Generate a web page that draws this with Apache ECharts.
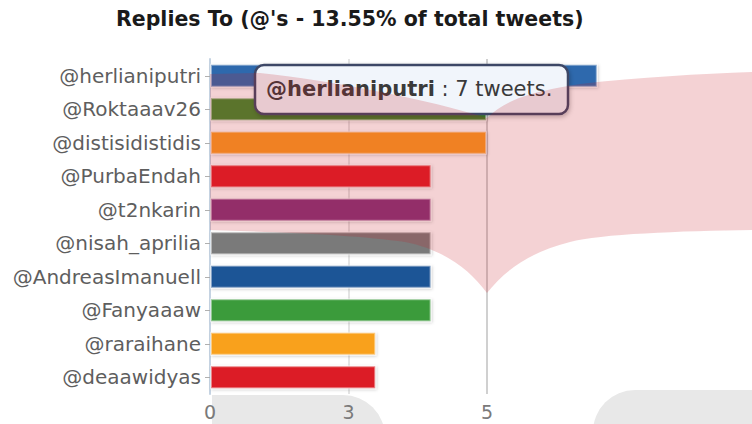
<!DOCTYPE html>
<html>
<head>
<meta charset="utf-8">
<title>Replies To</title>
<script src="https://cdn.jsdelivr.net/npm/echarts@6/dist/echarts.min.js"></script>
<style>
  html, body { margin: 0; padding: 0; background: #ffffff; }
  #chart { width: 752px; height: 424px; }
</style>
</head>
<body>
<div id="chart"></div>
<script>
// Accounts replied to, and how many tweets went to each
var accounts = ['@herlianiputri', '@Roktaaav26', '@distisidistidis', '@PurbaEndah', '@t2nkarin',
                '@nisah_aprilia', '@AndreasImanuell', '@Fanyaaaw', '@raraihane', '@deaawidyas'];
var tweetCounts = [7, 5, 5, 4, 4, 4, 4, 4, 3, 3];
var titleText = "Replies To (@'s - 13.55% of total tweets)";

// One colour per bar
var barColors = ['#2f69ad', '#3f8a2e', '#fa9a20', '#e21e26', '#86307a',
                 '#7a7a7a', '#1f5596', '#3a9b3a', '#f9a11b', '#dc1f26'];

// Curved red wing drawn across the plot as a decoration
var WingShape = echarts.graphic.extendShape({
  shape: {},
  buildPath: function (ctx) {
    ctx.moveTo(210, 74);
    ctx.lineTo(260, 73);
    ctx.bezierCurveTo(330, 80, 430, 100, 487, 118);
    ctx.bezierCurveTo(505, 100, 530, 92, 580, 84);
    ctx.bezierCurveTo(640, 77, 700, 74, 752, 72);
    ctx.lineTo(752, 230);
    ctx.bezierCurveTo(680, 231, 600, 234, 570, 242);
    ctx.bezierCurveTo(530, 252, 505, 270, 487, 293);
    ctx.bezierCurveTo(470, 270, 445, 250, 405, 242);
    ctx.bezierCurveTo(360, 235, 280, 232, 210, 230);
    ctx.closePath();
  }
});
echarts.graphic.registerShape('wing', WingShape);

var chart = echarts.init(document.getElementById('chart'), null, { renderer: 'svg' });

// Highlighted entry shown in the info box: the most-replied account
var topIdx = tweetCounts.indexOf(Math.max.apply(null, tweetCounts));
var infoText = '{b|' + accounts[topIdx] + '}{n| : ' + tweetCounts[topIdx] + ' tweets.}';

var option = {
  backgroundColor: '#ffffff',
  animation: false,
  title: {
    text: titleText,
    left: 116,
    top: 8,
    padding: 0,
    textStyle: { fontFamily: 'DejaVu Sans', fontWeight: 'bold', fontSize: 20.5, color: '#1a1a1a' }
  },
  grid: { left: 210, right: 126.5, top: 59, bottom: 30, containLabel: false },
  xAxis: {
    type: 'value',
    min: 0,
    max: 7.5,
    interval: 2.5,
    axisLine: { show: false },
    axisTick: { show: false },
    axisLabel: {
      showMaxLabel: false,
      margin: 8,
      fontFamily: 'DejaVu Sans',
      fontSize: 19,
      color: '#7a7a7a',
      formatter: function (v) { return String(Math.round(v)); }
    },
    splitLine: {
      show: true,
      lineStyle: { color: ['rgba(0,0,0,0)', '#e4e4e4', '#d0d0d0', 'rgba(0,0,0,0)'], width: 2 }
    }
  },
  yAxis: {
    type: 'category',
    inverse: true,
    data: accounts,
    axisLine: { show: true, lineStyle: { color: '#c5d3e2', width: 2 } },
    axisTick: { show: true, length: 5, alignWithLabel: true, lineStyle: { color: '#b0b0b0' } },
    axisLabel: {
      margin: 9,
      fontFamily: 'DejaVu Sans',
      fontSize: 20,
      color: '#5e5e5e'
    }
  },
  series: [{
    type: 'bar',
    data: tweetCounts.map(function (v, i) {
      return { value: v, itemStyle: { color: barColors[i] } };
    }),
    barWidth: 24,
    itemStyle: {
      borderColor: 'rgba(255,255,255,0.45)',
      borderWidth: 2,
      shadowColor: 'rgba(0,0,0,0.22)',
      shadowBlur: 3,
      shadowOffsetX: 1,
      shadowOffsetY: 1
    },
    emphasis: { disabled: true }
  }],
  graphic: [
    // pale grey shapes along the bottom edge
    {
      type: 'rect', z: -10, silent: true,
      shape: { x: 212, y: 395, width: 173, height: 60, r: [0, 42, 0, 0] },
      style: { fill: '#e8e8e8' }
    },
    {
      type: 'rect', z: -10, silent: true,
      shape: { x: 593, y: 390, width: 220, height: 60, r: [42, 0, 0, 0] },
      style: { fill: '#e8e8e8' }
    },
    // info box for the top account
    {
      type: 'rect', z: 50, silent: true,
      shape: { x: 255, y: 65, width: 313, height: 49, r: 9 },
      style: {
        fill: '#f1f5fb', stroke: '#3d4766', lineWidth: 2.5,
        shadowColor: 'rgba(0,0,0,0.25)', shadowBlur: 4, shadowOffsetX: 1, shadowOffsetY: 2
      }
    },
    {
      type: 'text', z: 51, silent: true,
      x: 266, y: 89,
      style: {
        text: infoText,
        verticalAlign: 'middle',
        rich: {
          b: { fontFamily: 'DejaVu Sans', fontWeight: 'bold', fontSize: 21, fill: '#3a3a3a' },
          n: { fontFamily: 'DejaVu Sans', fontSize: 21, fill: '#3a3a3a' }
        }
      }
    },
    // translucent red wing across the plot
    {
      type: 'wing', z: 100, silent: true,
      shape: {},
      style: { fill: 'rgba(200,28,42,0.2)' }
    }
  ]
};

chart.setOption(option);
</script>
</body>
</html>
